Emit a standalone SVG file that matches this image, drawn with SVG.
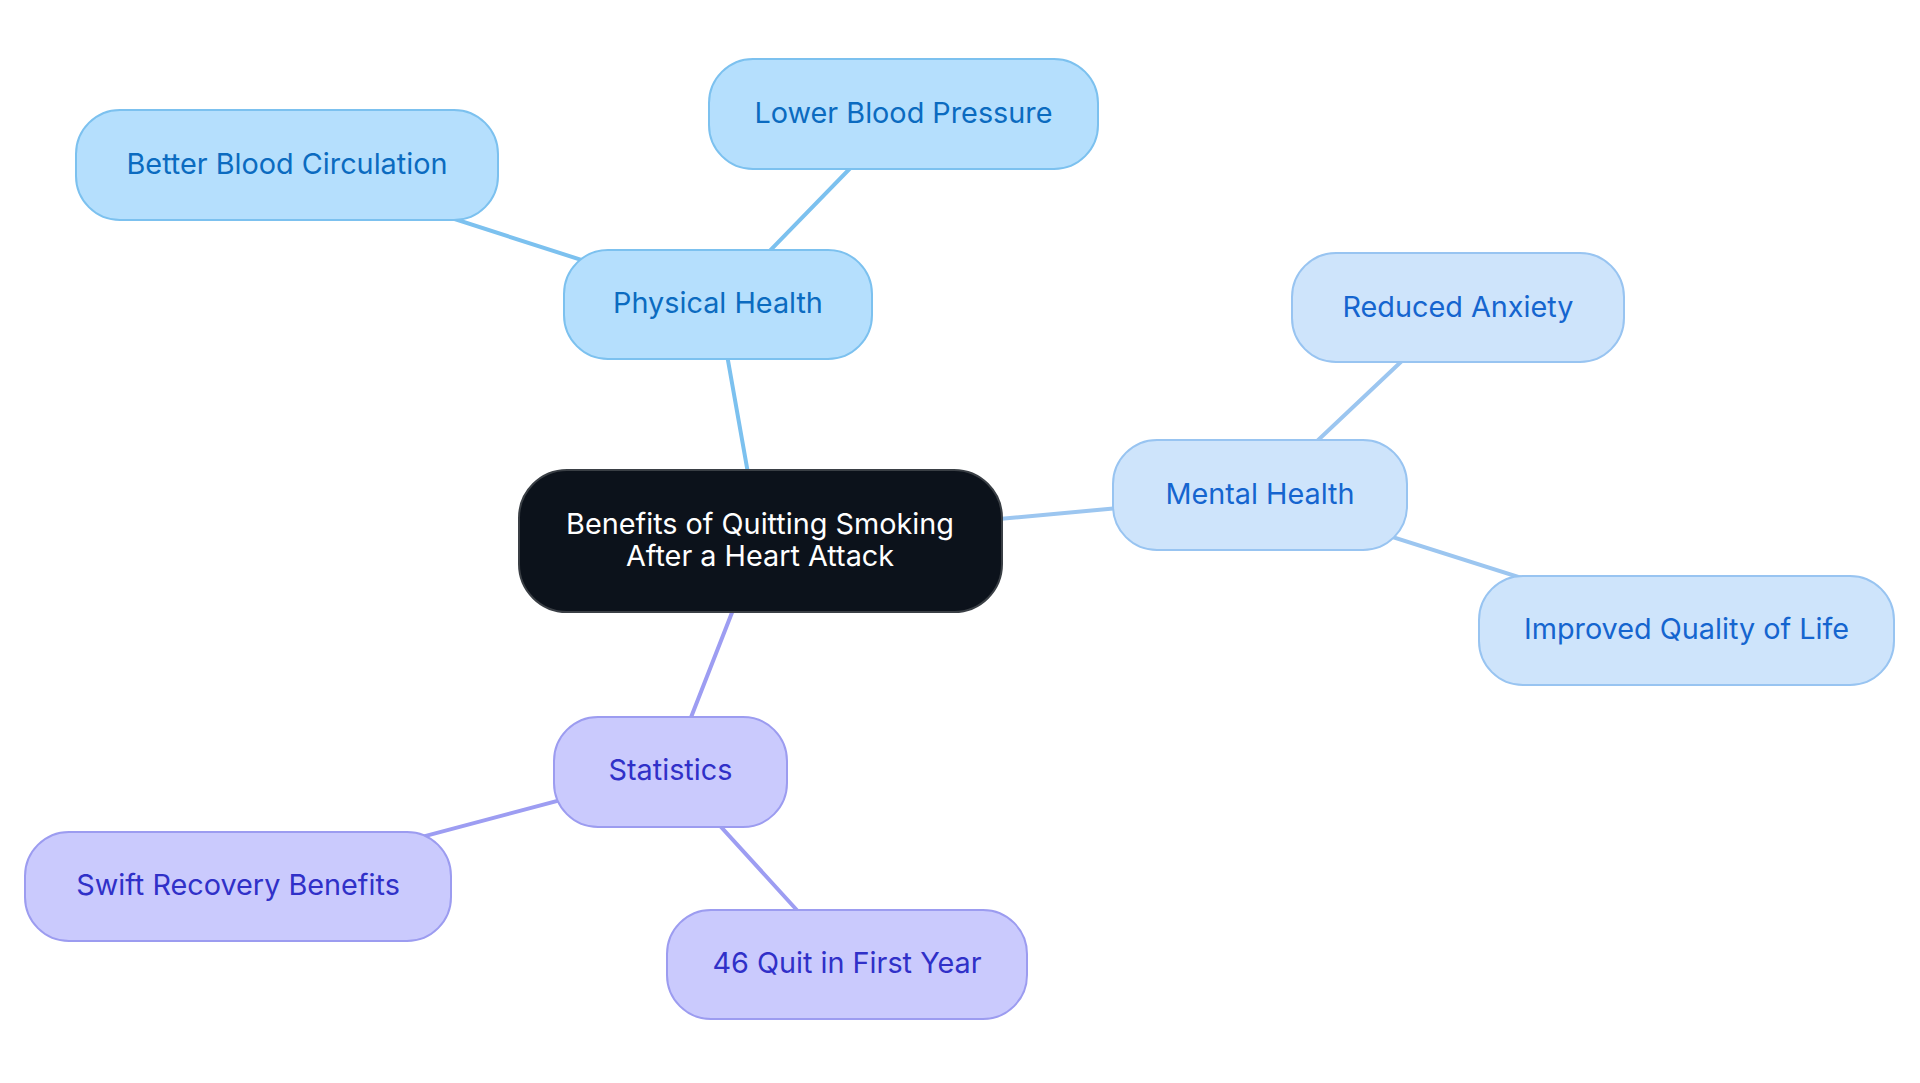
<svg xmlns="http://www.w3.org/2000/svg" width="1920" height="1083" viewBox="0 0 1920 1083">
<style>
text{font-family:Inter,"Noto Sans","Liberation Sans",sans-serif;font-size:28.8px;text-anchor:middle}
.phy rect{fill:#b5dffd;stroke:#7cc1ef;stroke-width:2}
.phy text{fill:#0b6bc0}
.men rect{fill:#cee4fb;stroke:#98c4f1;stroke-width:2}
.men text{fill:#1565cf}
.sta rect{fill:#cacafd;stroke:#9c9cf0;stroke-width:2}
.sta text{fill:#3030c8}
.root rect{fill:#0c121b;stroke:#3a3f45;stroke-width:2}
.root text{fill:#ffffff}
#edges line{stroke-width:4;stroke-linecap:round}
.ep{stroke:#7cc1ef}.em{stroke:#9cc6f0}.es{stroke:#9d9df2}
</style>
<rect width="1920" height="1083" fill="#ffffff"/>
<g id="edges">
<line class="ep" x1="760" y1="541" x2="718" y2="304"/>
<line class="ep" x1="718" y1="304" x2="287" y2="165"/>
<line class="ep" x1="718" y1="304" x2="903" y2="114"/>
<line class="em" x1="760" y1="541" x2="1260" y2="495"/>
<line class="em" x1="1260" y1="495" x2="1458" y2="308"/>
<line class="em" x1="1260" y1="495" x2="1686" y2="630"/>
<line class="es" x1="760" y1="541" x2="670" y2="771"/>
<line class="es" x1="670" y1="771" x2="237" y2="886"/>
<line class="es" x1="670" y1="771" x2="846" y2="964"/>
</g>
<g id="root" class="root">
<rect x="519" y="470" width="483" height="142" rx="48"/>
<text x="760" y="534">Benefits of Quitting Smoking</text>
<text x="760" y="566">After a Heart Attack</text>
</g>
<g id="physical" class="phy">
<rect x="564" y="250" width="308" height="109" rx="44"/>
<text x="718" y="313">Physical Health</text>
</g>
<g id="lowerbp" class="phy">
<rect x="709" y="59" width="389" height="110" rx="44"/>
<text x="903.5" y="123">Lower Blood Pressure</text>
</g>
<g id="circulation" class="phy">
<rect x="76" y="110" width="422" height="110" rx="44"/>
<text x="287" y="174">Better Blood Circulation</text>
</g>
<g id="mental" class="men">
<rect x="1113" y="440" width="294" height="110" rx="44"/>
<text x="1260" y="504">Mental Health</text>
</g>
<g id="anxiety" class="men">
<rect x="1292" y="253" width="332" height="109" rx="44"/>
<text x="1458" y="317">Reduced Anxiety</text>
</g>
<g id="quality" class="men">
<rect x="1479" y="576" width="415" height="109" rx="44"/>
<text x="1686.5" y="639">Improved Quality of Life</text>
</g>
<g id="statistics" class="sta">
<rect x="554" y="717" width="233" height="110" rx="44"/>
<text x="670.5" y="780">Statistics</text>
</g>
<g id="swift" class="sta">
<rect x="25" y="832" width="426" height="109" rx="44"/>
<text x="238" y="895">Swift Recovery Benefits</text>
</g>
<g id="quit46" class="sta">
<rect x="667" y="910" width="360" height="109" rx="44"/>
<text x="847" y="973">46 Quit in First Year</text>
</g>
</svg>
